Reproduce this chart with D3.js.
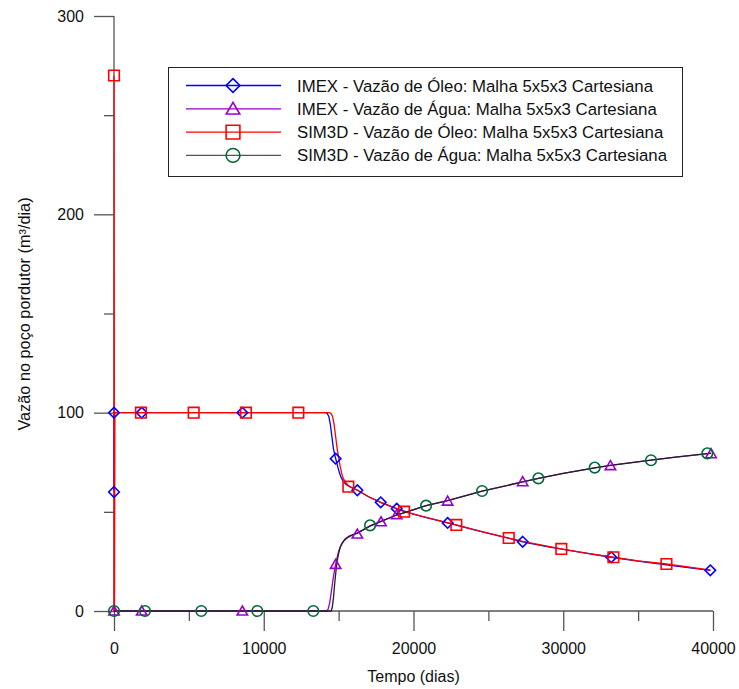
<!DOCTYPE html>
<html>
<head>
<meta charset="utf-8">
<script src="https://cdn.jsdelivr.net/npm/d3@7"></script>
<style>
  body { margin: 0; background: #fff; }
  text { font-family: Arial, "Liberation Sans", sans-serif; fill: #111; }
</style>
</head>
<body>
<svg id="chart"></svg>
<script>
// tick values
const xTicks = [0, 10000, 20000, 30000, 40000];
const xMinorTicks = [5000, 15000, 25000, 35000];
const yTicks = [0, 100, 200, 300];
const yMinorTicks = [50, 150, 250];

const seriesNames = [
  'IMEX - Vazão de Óleo: Malha 5x5x3 Cartesiana',
  'IMEX - Vazão de Água: Malha 5x5x3 Cartesiana',
  'SIM3D - Vazão de Óleo: Malha 5x5x3 Cartesiana',
  'SIM3D - Vazão de Água: Malha 5x5x3 Cartesiana'
];

// curves [tempo, vazão]
const imexOleo = [[0,60],[5,100],[14150,100],[14250,99.5],[14350,98],[14450,94],[14550,88],[14650,82],[14750,78.5],
  [14850,75.5],[14950,72.5],[15050,69.8],[15150,67.6],[15300,65.5],[15500,63.8],[15800,62.4],[16250,60.9],[17000,57.6],
  [17810,54.8],[18880,51.6],[20000,48.8],[21000,46.8],[22280,44.4],[24000,41],[25500,38.2],[27290,34.9],[29000,32.3],
  [31000,29.8],[33210,27.1],[35000,25.2],[37000,23.2],[39820,20.5]];
const imexAgua = [[0,0],[14200,0],[14300,1],[14400,4],[14500,9],[14600,14.5],[14700,19.5],[14800,23.5],[14900,27],
  [15000,30],[15150,33],[15350,35.3],[15600,37],[15900,38.2],[16250,39.3],[17100,42.8],[17830,45.2],[18880,48.4],
  [20840,53.1],[22280,55.6],[24580,60.4],[27290,65.1],[28340,66.9],[30000,69.4],[32100,72.2],[33150,73.4],[35860,76.1],
  [37500,77.6],[39870,79.5]];
const simOleo = [[0,0],[0,270],[30,0],[60,100],[14400,100],[14500,99.5],[14600,98],[14700,94],[14800,88],[14900,82],
  [15000,77.5],[15100,73],[15200,69.5],[15300,67],[15450,65],[15650,63.3],[15800,62.6],[16250,61],[17000,57.6],
  [17810,54.8],[19370,50.1],[20500,47.8],[22860,43.4],[24500,40.2],[26360,36.8],[27290,35.1],[29870,31.3],[31500,29.2],
  [33350,27.1],[35000,25.3],[36890,23.7],[39850,20.6]];
const simAgua = [[0,0],[14500,0],[14580,2],[14660,7],[14740,14],[14820,20],[14900,25],[15000,29],[15100,32],
  [15250,34.5],[15450,36.5],[15700,37.8],[16000,38.6],[16250,39.3],[17100,42.9],[17830,45.2],[18880,48.4],[20840,53.1],
  [22280,55.6],[24580,60.4],[27290,65.1],[28340,66.9],[30000,69.4],[32100,72.2],[33150,73.4],[35860,76.1],[37500,77.6],
  [39870,79.6]];

// marker points
const imexOleoMarks = [[0,100],[0,60],[1850,100],[8570,100],[14800,76.8],[16250,60.9],[17810,54.8],[18880,51.6],
  [22280,44.4],[27290,34.9],[33210,27.1],[39820,20.5]];
const imexAguaMarks = [[0,0],[1850,0],[8570,0],[14800,23.5],[16250,38.8],[17830,45],[18880,48.6],[22280,55.4],
  [27290,65.2],[33150,73.3],[39870,79.3]];
const simOleoMarks = [[0,270],[1800,100],[5320,100],[8810,100],[12310,100],[15650,62.7],[19370,50.1],[22860,43.4],
  [26360,36.8],[29870,31.3],[33350,27.1],[36890,23.7]];
const simAguaMarks = [[0,0],[2070,0],[5830,0],[9570,0],[13310,0],[17100,43.2],[20840,53.1],[24580,60.5],[28340,66.9],
  [32100,72.3],[35860,76],[39620,79.5]];

const width = 739, height = 689;
const margin = {top: 16, left: 114, right: 26, bottom: 78};
const w = width - margin.left - margin.right;
const h = height - margin.top - margin.bottom;

const svg = d3.select('#chart').attr('width', width).attr('height', height);
const chart = svg.append('g').attr('transform', `translate(${margin.left},${margin.top})`);

const x = d3.scaleLinear().domain([0, 40000]).range([0, w]);
const y = d3.scaleLinear().domain([0, 300]).range([h, 0]);

const axisColor = '#555';

// x axis
const xAxisG = chart.append('g').attr('transform', `translate(0,${h})`)
  .call(d3.axisBottom(x).tickValues(xTicks).tickSize(20).tickPadding(6).tickFormat(d3.format('d')));
chart.append('g').attr('transform', `translate(0,${h})`)
  .call(d3.axisBottom(x).tickValues(xMinorTicks).tickSize(10).tickFormat(''))
  .select('.domain').remove();

// y axis
const yAxisG = chart.append('g')
  .call(d3.axisLeft(y).tickValues(yTicks).tickSize(20).tickPadding(10));
chart.append('g')
  .call(d3.axisLeft(y).tickValues(yMinorTicks).tickSize(10).tickFormat(''))
  .select('.domain').remove();

xAxisG.select('.domain').attr('d', `M0,0H${w}`);
yAxisG.select('.domain').attr('d', `M0,0V${h}`);
chart.selectAll('.domain').attr('stroke', axisColor).attr('stroke-width', 1.3);
chart.selectAll('.tick line').attr('stroke', axisColor).attr('stroke-width', 1.3);
chart.selectAll('.tick text').style('font-size', '16px').attr('fill', '#111');
xAxisG.selectAll('.tick text').attr('dy', '1.05em');

// axis titles
svg.append('text')
  .attr('x', margin.left + x(20000)).attr('y', 682)
  .attr('text-anchor', 'middle').style('font-size', '16px')
  .text('Tempo (dias)');
svg.append('text')
  .attr('transform', 'translate(30,314) rotate(-90)')
  .attr('text-anchor', 'middle').style('font-size', '16.3px')
  .text('Vazão no poço pordutor (m³/dia)');

// lines + markers
const line = d3.line().x(d => x(d[0])).y(d => y(d[1]));

const styles = [
  {data: imexOleo, marks: imexOleoMarks, line: '#0000ff', mark: '#0000ff', shape: 'diamond'},
  {data: imexAgua, marks: imexAguaMarks, line: '#9900cc', mark: '#9900cc', shape: 'triangle'},
  {data: simOleo, marks: simOleoMarks, line: '#ff0000', mark: '#ff0000', shape: 'square'},
  {data: simAgua, marks: simAguaMarks, line: '#222222', mark: '#006b33', shape: 'circle'}
];

function markerPath(shape, k) {
  if (shape === 'diamond') return `M0,${-5.3*k}L${5.3*k},0L0,${5.3*k}L${-5.3*k},0Z`;
  if (shape === 'triangle') return `M0,${-5*k}L${5.2*k},${4*k}L${-5.2*k},${4*k}Z`;
  if (shape === 'square') return `M${-5.3*k},${-5.3*k}H${5.3*k}V${5.3*k}H${-5.3*k}Z`;
  return d3.arc()({innerRadius: 0, outerRadius: 5.3 * k, startAngle: 0, endAngle: 2 * Math.PI});
}

styles.forEach(s => {
  chart.append('path').datum(s.data)
    .attr('d', line)
    .attr('fill', 'none')
    .attr('stroke', s.line)
    .attr('stroke-width', 1.3);
});
styles.forEach(s => {
  chart.selectAll(null).data(s.marks).join('path')
    .attr('transform', d => `translate(${x(d[0])},${y(d[1])})`)
    .attr('d', markerPath(s.shape, 1))
    .attr('fill', 'none')
    .attr('stroke', s.mark)
    .attr('stroke-width', 1.6);
});

// legend
const legend = svg.append('g');
legend.append('rect')
  .attr('x', 168.5).attr('y', 67.5).attr('width', 514).attr('height', 109)
  .attr('fill', '#fff').attr('stroke', '#222').attr('stroke-width', 1);
const legendLine = ['#0000ff', '#9900cc', '#ff0000', '#555555'];
seriesNames.forEach((name, i) => {
  const ly = 85.5 + i * 23.3;
  const g = legend.append('g');
  g.append('line').attr('x1', 186).attr('x2', 281).attr('y1', ly).attr('y2', ly)
    .attr('stroke', legendLine[i]).attr('stroke-width', 1.3);
  g.append('path').attr('transform', `translate(233,${ly})`)
    .attr('d', markerPath(styles[i].shape, 1.3))
    .attr('fill', 'none').attr('stroke', styles[i].mark).attr('stroke-width', 1.6);
  g.append('text').attr('x', 297).attr('y', ly).attr('dy', '0.36em')
    .style('font-size', '16.8px').text(name);
});
</script>
</body>
</html>
